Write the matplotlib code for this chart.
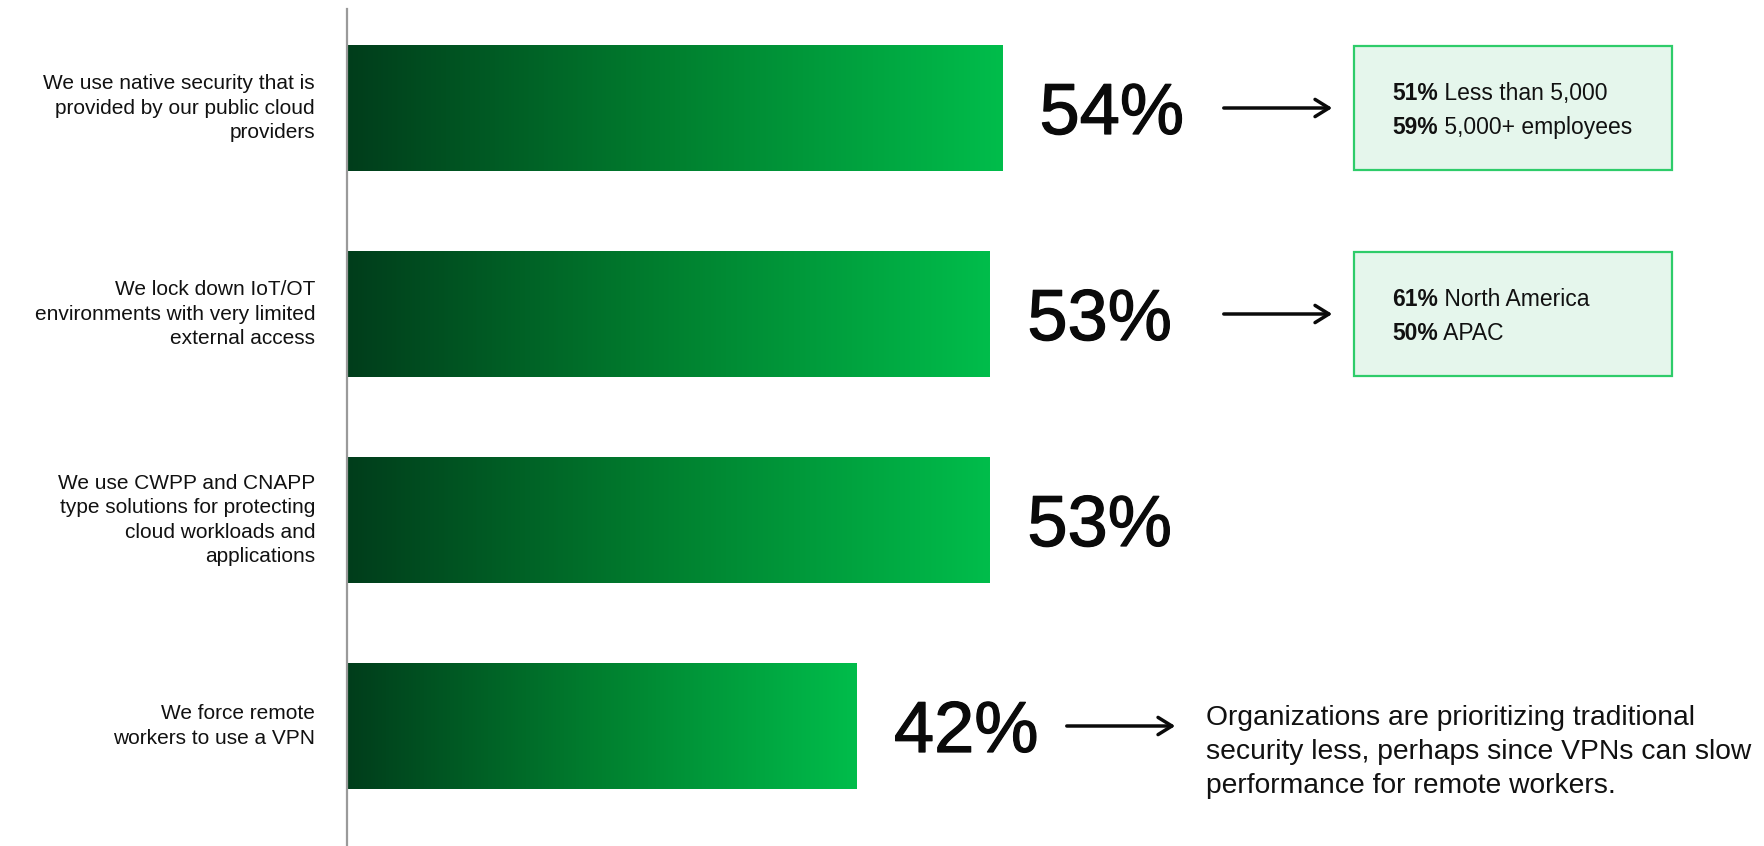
import matplotlib
matplotlib.use("Agg")
import matplotlib.pyplot as plt
import matplotlib.patheffects as pe
import numpy as np
from matplotlib.colors import LinearSegmentedColormap
from matplotlib.patches import Rectangle

# Survey answers, top to bottom
labels = [
    "We use native security that is\nprovided by our public cloud\nproviders",
    "We lock down IoT/OT\nenvironments with very limited\nexternal access",
    "We use CWPP and CNAPP\ntype solutions for protecting\ncloud workloads and\napplications",
    "We force remote\nworkers to use a VPN",
]
values = [54, 53, 53, 42]

# Breakdown boxes (bold share, description) for the first two rows
breakdowns = {
    0: [("51%", "Less than 5,000"), ("59%", "5,000+ employees")],
    1: [("61%", "North America"), ("50%", "APAC")],
}
note_row = 3
note_text = ("Organizations are prioritizing traditional\n"
             "security less, perhaps since VPNs can slow\n"
             "performance for remote workers.")

W, H, DPI = 1764, 846, 100
FONT = "Liberation Sans"
plt.rcParams["font.family"] = [FONT, "DejaVu Sans"]

fig = plt.figure(figsize=(W / DPI, H / DPI), dpi=DPI)
ax = fig.add_axes([0, 0, 1, 1])

# x in percent (0 at the axis line), y in pixel rows from the top
px_per_pct = 12.13
x0 = 347
ax.set_xlim(-x0 / px_per_pct, (W - x0) / px_per_pct)
ax.set_ylim(H, 0)
ax.axis("off")

def px(x):
    # pixel column -> percent units on the x axis
    return (x - x0) / px_per_pct

green = LinearSegmentedColormap.from_list(
    "bar", ["#003d1b", "#00802f", "#00bd4b"])
grad = np.linspace(0, 1, 256).reshape(1, -1)

row_top, row_pitch, bar_h = 45, 206, 126
ink = "#0a0a0a"
arrow_style = dict(arrowstyle="->,head_length=1.0,head_width=0.62",
                   color=ink, lw=2.5)

ax.plot([0, 0], [9, H], color="#9a9a9a", lw=1.6, zorder=3)

for i, (lab, v) in enumerate(zip(labels, values)):
    top = row_top + i * row_pitch
    yc = top + bar_h / 2
    ax.imshow(grad, cmap=green, aspect="auto",
              extent=(0, v, top + bar_h, top), zorder=2)

    ax.annotate(lab, xy=(0, yc), xytext=(-23, 0), textcoords="offset points",
                ha="right", va="center", fontsize=15, linespacing=1.36,
                color="#111111")

    ax.annotate(f"{v}%", xy=(v, yc), xytext=(27, 0), textcoords="offset points",
                ha="left", va="center_baseline", fontsize=52, color=ink,
                path_effects=[pe.withStroke(linewidth=0.9, foreground=ink)])

    if i in breakdowns:
        ax.annotate("", xy=(px(1335), yc), xytext=(px(1221), yc),
                    arrowprops=arrow_style)
        ax.add_patch(Rectangle((px(1354), top + 1), px(1672) - px(1354), bar_h - 2,
                               facecolor="#e5f6ec", edgecolor="#2ecc6a", lw=1.6,
                               zorder=2))
        for j, (bold, rest) in enumerate(breakdowns[i]):
            ly = yc + (j - 0.5) * 34
            t = ax.text(px(1392), ly, bold, fontsize=16.5, fontweight="bold",
                        ha="left", va="center_baseline", color="#111111")
            ax.annotate(" " + rest, xy=(1, 0), xycoords=t, ha="left",
                        va="bottom", fontsize=16.5, color="#111111")

    if i == note_row:
        ax.annotate("", xy=(px(1178), yc), xytext=(px(1064), yc),
                    arrowprops=arrow_style)
        ax.text(px(1206), yc + 26, note_text, ha="left", va="center",
                fontsize=20.3, linespacing=1.42, color="#111111")

fig.savefig("out.png", dpi=DPI)
